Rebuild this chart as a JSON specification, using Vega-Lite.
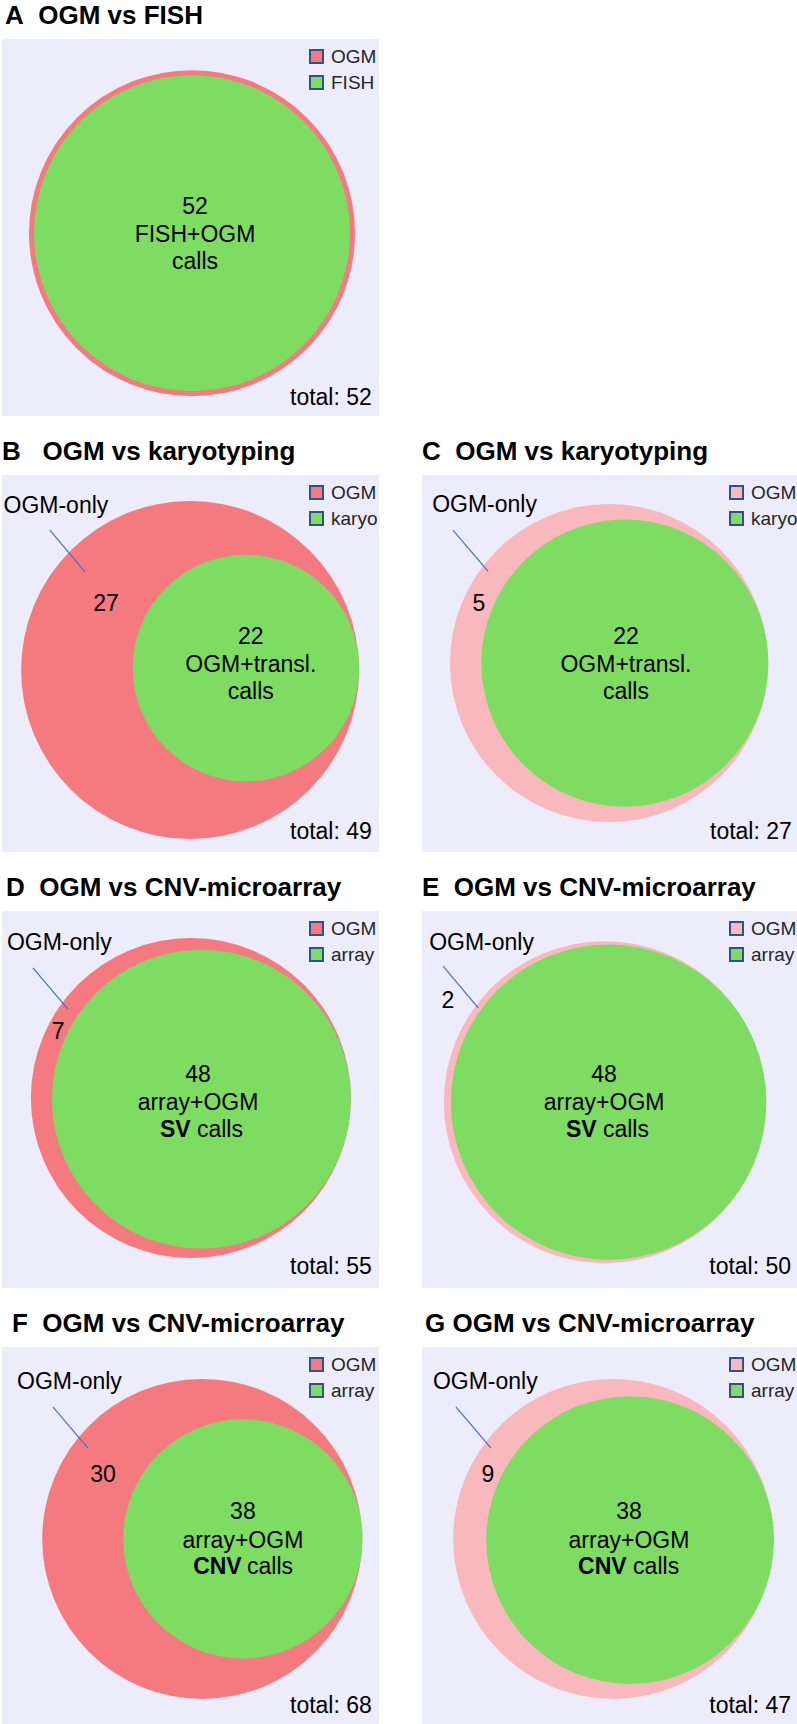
{
  "$schema": "https://vega.github.io/schema/vega-lite/v6.json",
  "padding": {"left": 2, "top": 3, "right": 0, "bottom": 0},
  "background": "white",
  "spacing": 23,
  "resolve": {"scale": {"color": "independent", "size": "independent"}, "legend": {"color": "independent", "size": "independent"}},
  "config": {
    "font": "Liberation Sans",
    "view": {"stroke": null, "fill": "#ECECFB"},
    "title": {"font": "Liberation Sans", "fontSize": 26, "fontWeight": "bold", "anchor": "start", "color": "#000", "offset": 10, "baseline": "alphabetic"},
    "text": {"font": "Liberation Sans", "fontSize": 23, "color": "#000", "baseline": "alphabetic"},
    "legend": {"title": null, "orient": "none", "legendX": 305, "legendY": 8, "symbolType": "square", "symbolSize": 169, "symbolStrokeColor": "#2F528F", "symbolStrokeWidth": 2, "symbolOpacity": 1, "labelFontSize": 19, "labelColor": "#262626", "labelFont": "Liberation Sans", "labelOffset": 5, "rowPadding": 5, "padding": 0}
  },
  "datasets": {
    "circles": [
      {"panel": "A", "set": "OGM", "count": 52, "x": 50.4, "y": 51.5},
      {"panel": "A", "set": "FISH", "count": 52, "x": 50.4, "y": 51.5},
      {"panel": "B", "set": "OGM", "count": 49, "x": 49.9, "y": 51.7},
      {"panel": "B", "set": "karyo", "count": 22, "x": 64.7, "y": 51.2},
      {"panel": "C", "set": "OGM", "count": 27, "x": 49.6, "y": 49.9},
      {"panel": "C", "set": "karyo", "count": 22, "x": 53.8, "y": 49.9},
      {"panel": "D", "set": "OGM", "count": 55, "x": 50.1, "y": 49.6},
      {"panel": "D", "set": "array", "count": 48, "x": 52.9, "y": 49.9},
      {"panel": "E", "set": "OGM", "count": 50, "x": 48.5, "y": 50.7},
      {"panel": "E", "set": "array", "count": 48, "x": 49.5, "y": 50.7},
      {"panel": "F", "set": "OGM", "count": 68, "x": 53.1, "y": 50.9},
      {"panel": "F", "set": "array", "count": 38, "x": 63.9, "y": 50.9},
      {"panel": "G", "set": "OGM", "count": 47, "x": 50.7, "y": 50.9},
      {"panel": "G", "set": "array", "count": 38, "x": 55.2, "y": 51.2}
    ],
    "labels": [
      {"panel": "A", "role": "count", "text": "52", "x": 51.2, "y": 46.4},
      {"panel": "A", "role": "desc", "text": "FISH+OGM", "x": 51.2, "y": 53.8},
      {"panel": "A", "role": "desc", "text": "calls", "x": 51.2, "y": 61.0},
      {"panel": "A", "role": "total", "text": "total: 52", "x": 98.1, "y": 97.1},
      {"panel": "B", "role": "callout", "text": "OGM-only", "x": 0.4, "y": 10.1},
      {"panel": "B", "role": "count", "text": "27", "x": 27.6, "y": 36.1},
      {"panel": "B", "role": "count", "text": "22", "x": 66.0, "y": 44.8},
      {"panel": "B", "role": "desc", "text": "OGM+transl.", "x": 66.0, "y": 52.3},
      {"panel": "B", "role": "desc", "text": "calls", "x": 66.0, "y": 59.4},
      {"panel": "B", "role": "total", "text": "total: 49", "x": 98.1, "y": 96.6},
      {"panel": "C", "role": "callout", "text": "OGM-only", "x": 2.7, "y": 9.8},
      {"panel": "C", "role": "count", "text": "5", "x": 15.1, "y": 36.1},
      {"panel": "C", "role": "count", "text": "22", "x": 54.1, "y": 44.8},
      {"panel": "C", "role": "desc", "text": "OGM+transl.", "x": 54.1, "y": 52.3},
      {"panel": "C", "role": "desc", "text": "calls", "x": 54.1, "y": 59.4},
      {"panel": "C", "role": "total", "text": "total: 27", "x": 98.1, "y": 96.6},
      {"panel": "D", "role": "callout", "text": "OGM-only", "x": 1.3, "y": 10.3},
      {"panel": "D", "role": "count", "text": "7", "x": 14.9, "y": 34.0},
      {"panel": "D", "role": "count", "text": "48", "x": 52.0, "y": 45.4},
      {"panel": "D", "role": "desc", "text": "array+OGM", "x": 52.0, "y": 52.8},
      {"panel": "D", "role": "type", "text": "SV", "x": 41.9, "y": 59.9},
      {"panel": "D", "role": "suffix", "text": "calls", "x": 51.7, "y": 59.9},
      {"panel": "D", "role": "total", "text": "total: 55", "x": 98.1, "y": 96.3},
      {"panel": "E", "role": "callout", "text": "OGM-only", "x": 1.9, "y": 10.3},
      {"panel": "E", "role": "count", "text": "2", "x": 6.9, "y": 25.7},
      {"panel": "E", "role": "count", "text": "48", "x": 48.3, "y": 45.4},
      {"panel": "E", "role": "desc", "text": "array+OGM", "x": 48.3, "y": 52.8},
      {"panel": "E", "role": "type", "text": "SV", "x": 38.2, "y": 59.9},
      {"panel": "E", "role": "suffix", "text": "calls", "x": 48.0, "y": 59.9},
      {"panel": "E", "role": "total", "text": "total: 50", "x": 97.9, "y": 96.3},
      {"panel": "F", "role": "callout", "text": "OGM-only", "x": 4.0, "y": 11.1},
      {"panel": "F", "role": "count", "text": "30", "x": 26.8, "y": 35.8},
      {"panel": "F", "role": "count", "text": "38", "x": 63.9, "y": 45.6},
      {"panel": "F", "role": "desc", "text": "array+OGM", "x": 63.9, "y": 53.3},
      {"panel": "F", "role": "type", "text": "CNV", "x": 50.7, "y": 60.2},
      {"panel": "F", "role": "suffix", "text": "calls", "x": 65.0, "y": 60.2},
      {"panel": "F", "role": "total", "text": "total: 68", "x": 98.1, "y": 97.1},
      {"panel": "G", "role": "callout", "text": "OGM-only", "x": 2.9, "y": 11.1},
      {"panel": "G", "role": "count", "text": "9", "x": 17.5, "y": 35.8},
      {"panel": "G", "role": "count", "text": "38", "x": 54.9, "y": 45.6},
      {"panel": "G", "role": "desc", "text": "array+OGM", "x": 54.9, "y": 53.3},
      {"panel": "G", "role": "type", "text": "CNV", "x": 41.4, "y": 60.2},
      {"panel": "G", "role": "suffix", "text": "calls", "x": 56.0, "y": 60.2},
      {"panel": "G", "role": "total", "text": "total: 47", "x": 97.9, "y": 97.1}
    ],
    "leaders": [
      {"panel": "B", "x": 12.7, "y": 14.6, "x2": 22.0, "y2": 25.7},
      {"panel": "C", "x": 8.2, "y": 14.6, "x2": 17.5, "y2": 25.5},
      {"panel": "D", "x": 8.2, "y": 15.1, "x2": 17.5, "y2": 26.0},
      {"panel": "E", "x": 5.6, "y": 14.6, "x2": 14.9, "y2": 25.7},
      {"panel": "F", "x": 13.5, "y": 15.9, "x2": 22.8, "y2": 26.8},
      {"panel": "G", "x": 9.0, "y": 15.9, "x2": 18.3, "y2": 26.8}
    ]
  },
  "vconcat": [
    {
      "width": 377, "height": 377,
      "title": {"text": "A\u00a0 OGM vs FISH", "dx": 3},
      "encoding": {
        "x": {"field": "x", "type": "quantitative", "scale": {"domain": [0, 100]}, "axis": null},
        "y": {"field": "y", "type": "quantitative", "scale": {"domain": [0, 100], "reverse": true}, "axis": null},
        "size": {"field": "count", "type": "quantitative", "scale": {"domain": [0, 52], "range": [0, 99856]}, "legend": null}
      },
      "layer": [
        {"data": {"name": "circles"}, "transform": [{"filter": {"field": "panel", "equal": "A"}}, {"filter": {"field": "set", "equal": "OGM"}}],
         "mark": {"type": "point", "shape": "circle", "filled": false, "opacity": 1, "stroke": "#F47A80", "strokeWidth": 10}},
        {"data": {"name": "circles"}, "transform": [{"filter": {"field": "panel", "equal": "A"}}],
         "mark": {"type": "point", "shape": "circle", "filled": true, "opacity": 1},
         "encoding": {"color": {"field": "set", "type": "nominal", "sort": null, "scale": {"domain": ["OGM", "FISH"], "range": ["#F47A80", "#7FDC62"]},
           "legend": {"encode": {"symbols": {"update": {"stroke": {"value": "#2F528F"}, "strokeWidth": {"value": 2}, "opacity": {"value": 1}}}}}}}},
        {"data": {"name": "labels"}, "transform": [{"filter": {"field": "panel", "equal": "A"}}, {"filter": {"field": "role", "oneOf": ["count", "desc"]}}],
         "mark": {"type": "text", "align": "center"}, "encoding": {"text": {"field": "text"}, "size": {"value": 23}}},
        {"data": {"name": "labels"}, "transform": [{"filter": {"field": "panel", "equal": "A"}}, {"filter": {"field": "role", "equal": "total"}}],
         "mark": {"type": "text", "align": "right"}, "encoding": {"text": {"field": "text"}, "size": {"value": 23}}}
      ]
    },
    {
      "spacing": 43,
      "resolve": {"scale": {"color": "independent", "size": "independent"}, "legend": {"color": "independent", "size": "independent"}},
      "hconcat": [
        {
          "width": 377, "height": 377,
          "title": {"text": "B\u00a0\u00a0 OGM vs karyotyping", "dx": 0},
          "encoding": {
            "x": {"field": "x", "type": "quantitative", "scale": {"domain": [0, 100]}, "axis": null},
            "y": {"field": "y", "type": "quantitative", "scale": {"domain": [0, 100], "reverse": true}, "axis": null}
          },
          "layer": [
            {"data": {"name": "circles"}, "transform": [{"filter": {"field": "panel", "equal": "B"}}],
             "mark": {"type": "point", "shape": "circle", "filled": true, "opacity": 1},
             "encoding": {
               "size": {"field": "count", "type": "quantitative", "scale": {"domain": [0, 49], "range": [0, 114244]}, "legend": null},
               "color": {"field": "set", "type": "nominal", "sort": null, "scale": {"domain": ["OGM", "karyo"], "range": ["#F47A80", "#7FDC62"]},
               "legend": {"encode": {"symbols": {"update": {"stroke": {"value": "#2F528F"}, "strokeWidth": {"value": 2}, "opacity": {"value": 1}}}}}}}},
            {"data": {"name": "leaders"}, "transform": [{"filter": {"field": "panel", "equal": "B"}}],
             "mark": {"type": "rule", "color": "#4472C4", "strokeWidth": 1.2}, "encoding": {"x2": {"field": "x2"}, "y2": {"field": "y2"}}},
            {"data": {"name": "labels"}, "transform": [{"filter": {"field": "panel", "equal": "B"}}, {"filter": {"field": "role", "oneOf": ["count", "desc"]}}],
             "mark": {"type": "text", "align": "center"}, "encoding": {"text": {"field": "text"}, "size": {"value": 23}}},
            {"data": {"name": "labels"}, "transform": [{"filter": {"field": "panel", "equal": "B"}}, {"filter": {"field": "role", "oneOf": ["callout", "suffix"]}}],
             "mark": {"type": "text", "align": "left"}, "encoding": {"text": {"field": "text"}, "size": {"value": 23}}},
            {"data": {"name": "labels"}, "transform": [{"filter": {"field": "panel", "equal": "B"}}, {"filter": {"field": "role", "equal": "total"}}],
             "mark": {"type": "text", "align": "right"}, "encoding": {"text": {"field": "text"}, "size": {"value": 23}}}
          ]
        },
        {
          "width": 377, "height": 377,
          "title": {"text": "C\u00a0 OGM vs karyotyping", "dx": 0},
          "encoding": {
            "x": {"field": "x", "type": "quantitative", "scale": {"domain": [0, 100]}, "axis": null},
            "y": {"field": "y", "type": "quantitative", "scale": {"domain": [0, 100], "reverse": true}, "axis": null}
          },
          "layer": [
            {"data": {"name": "circles"}, "transform": [{"filter": {"field": "panel", "equal": "C"}}],
             "mark": {"type": "point", "shape": "circle", "filled": true, "opacity": 1},
             "encoding": {
               "size": {"field": "count", "type": "quantitative", "scale": {"domain": [0, 27], "range": [0, 101124]}, "legend": null},
               "color": {"field": "set", "type": "nominal", "sort": null, "scale": {"domain": ["OGM", "karyo"], "range": ["#F9B8BD", "#7FDC62"]},
               "legend": {"encode": {"symbols": {"update": {"stroke": {"value": "#2F528F"}, "strokeWidth": {"value": 2}, "opacity": {"value": 1}}}}}}}},
            {"data": {"name": "leaders"}, "transform": [{"filter": {"field": "panel", "equal": "C"}}],
             "mark": {"type": "rule", "color": "#4472C4", "strokeWidth": 1.2}, "encoding": {"x2": {"field": "x2"}, "y2": {"field": "y2"}}},
            {"data": {"name": "labels"}, "transform": [{"filter": {"field": "panel", "equal": "C"}}, {"filter": {"field": "role", "oneOf": ["count", "desc"]}}],
             "mark": {"type": "text", "align": "center"}, "encoding": {"text": {"field": "text"}, "size": {"value": 23}}},
            {"data": {"name": "labels"}, "transform": [{"filter": {"field": "panel", "equal": "C"}}, {"filter": {"field": "role", "oneOf": ["callout", "suffix"]}}],
             "mark": {"type": "text", "align": "left"}, "encoding": {"text": {"field": "text"}, "size": {"value": 23}}},
            {"data": {"name": "labels"}, "transform": [{"filter": {"field": "panel", "equal": "C"}}, {"filter": {"field": "role", "equal": "total"}}],
             "mark": {"type": "text", "align": "right"}, "encoding": {"text": {"field": "text"}, "size": {"value": 23}}}
          ]
        }
      ]
    },
    {
      "spacing": 43,
      "resolve": {"scale": {"color": "independent", "size": "independent"}, "legend": {"color": "independent", "size": "independent"}},
      "hconcat": [
        {
          "width": 377, "height": 377,
          "title": {"text": "D\u00a0 OGM vs CNV-microarray", "dx": 4},
          "encoding": {
            "x": {"field": "x", "type": "quantitative", "scale": {"domain": [0, 100]}, "axis": null},
            "y": {"field": "y", "type": "quantitative", "scale": {"domain": [0, 100], "reverse": true}, "axis": null}
          },
          "layer": [
            {"data": {"name": "circles"}, "transform": [{"filter": {"field": "panel", "equal": "D"}}],
             "mark": {"type": "point", "shape": "circle", "filled": true, "opacity": 1},
             "encoding": {
               "size": {"field": "count", "type": "quantitative", "scale": {"domain": [0, 55], "range": [0, 102400]}, "legend": null},
               "color": {"field": "set", "type": "nominal", "sort": null, "scale": {"domain": ["OGM", "array"], "range": ["#F47A80", "#7FDC62"]},
               "legend": {"encode": {"symbols": {"update": {"stroke": {"value": "#2F528F"}, "strokeWidth": {"value": 2}, "opacity": {"value": 1}}}}}}}},
            {"data": {"name": "leaders"}, "transform": [{"filter": {"field": "panel", "equal": "D"}}],
             "mark": {"type": "rule", "color": "#4472C4", "strokeWidth": 1.2}, "encoding": {"x2": {"field": "x2"}, "y2": {"field": "y2"}}},
            {"data": {"name": "labels"}, "transform": [{"filter": {"field": "panel", "equal": "D"}}, {"filter": {"field": "role", "oneOf": ["count", "desc"]}}],
             "mark": {"type": "text", "align": "center"}, "encoding": {"text": {"field": "text"}, "size": {"value": 23}}},
            {"data": {"name": "labels"}, "transform": [{"filter": {"field": "panel", "equal": "D"}}, {"filter": {"field": "role", "oneOf": ["callout", "suffix"]}}],
             "mark": {"type": "text", "align": "left"}, "encoding": {"text": {"field": "text"}, "size": {"value": 23}}},
            {"data": {"name": "labels"}, "transform": [{"filter": {"field": "panel", "equal": "D"}}, {"filter": {"field": "role", "equal": "type"}}],
             "mark": {"type": "text", "align": "left", "fontWeight": "bold"}, "encoding": {"text": {"field": "text"}, "size": {"value": 23}}},
            {"data": {"name": "labels"}, "transform": [{"filter": {"field": "panel", "equal": "D"}}, {"filter": {"field": "role", "equal": "total"}}],
             "mark": {"type": "text", "align": "right"}, "encoding": {"text": {"field": "text"}, "size": {"value": 23}}}
          ]
        },
        {
          "width": 377, "height": 377,
          "title": {"text": "E\u00a0 OGM vs CNV-microarray", "dx": 0},
          "encoding": {
            "x": {"field": "x", "type": "quantitative", "scale": {"domain": [0, 100]}, "axis": null},
            "y": {"field": "y", "type": "quantitative", "scale": {"domain": [0, 100], "reverse": true}, "axis": null}
          },
          "layer": [
            {"data": {"name": "circles"}, "transform": [{"filter": {"field": "panel", "equal": "E"}}],
             "mark": {"type": "point", "shape": "circle", "filled": true, "opacity": 1},
             "encoding": {
               "size": {"field": "count", "type": "quantitative", "scale": {"domain": [0, 50], "range": [0, 103684]}, "legend": null},
               "color": {"field": "set", "type": "nominal", "sort": null, "scale": {"domain": ["OGM", "array"], "range": ["#F9B8BD", "#7FDC62"]},
               "legend": {"encode": {"symbols": {"update": {"stroke": {"value": "#2F528F"}, "strokeWidth": {"value": 2}, "opacity": {"value": 1}}}}}}}},
            {"data": {"name": "leaders"}, "transform": [{"filter": {"field": "panel", "equal": "E"}}],
             "mark": {"type": "rule", "color": "#4472C4", "strokeWidth": 1.2}, "encoding": {"x2": {"field": "x2"}, "y2": {"field": "y2"}}},
            {"data": {"name": "labels"}, "transform": [{"filter": {"field": "panel", "equal": "E"}}, {"filter": {"field": "role", "oneOf": ["count", "desc"]}}],
             "mark": {"type": "text", "align": "center"}, "encoding": {"text": {"field": "text"}, "size": {"value": 23}}},
            {"data": {"name": "labels"}, "transform": [{"filter": {"field": "panel", "equal": "E"}}, {"filter": {"field": "role", "oneOf": ["callout", "suffix"]}}],
             "mark": {"type": "text", "align": "left"}, "encoding": {"text": {"field": "text"}, "size": {"value": 23}}},
            {"data": {"name": "labels"}, "transform": [{"filter": {"field": "panel", "equal": "E"}}, {"filter": {"field": "role", "equal": "type"}}],
             "mark": {"type": "text", "align": "left", "fontWeight": "bold"}, "encoding": {"text": {"field": "text"}, "size": {"value": 23}}},
            {"data": {"name": "labels"}, "transform": [{"filter": {"field": "panel", "equal": "E"}}, {"filter": {"field": "role", "equal": "total"}}],
             "mark": {"type": "text", "align": "right"}, "encoding": {"text": {"field": "text"}, "size": {"value": 23}}}
          ]
        }
      ]
    },
    {
      "spacing": 43,
      "resolve": {"scale": {"color": "independent", "size": "independent"}, "legend": {"color": "independent", "size": "independent"}},
      "hconcat": [
        {
          "width": 377, "height": 377,
          "title": {"text": "F\u00a0 OGM vs CNV-microarray", "dx": 10},
          "encoding": {
            "x": {"field": "x", "type": "quantitative", "scale": {"domain": [0, 100]}, "axis": null},
            "y": {"field": "y", "type": "quantitative", "scale": {"domain": [0, 100], "reverse": true}, "axis": null}
          },
          "layer": [
            {"data": {"name": "circles"}, "transform": [{"filter": {"field": "panel", "equal": "F"}}],
             "mark": {"type": "point", "shape": "circle", "filled": true, "opacity": 1},
             "encoding": {
               "size": {"field": "count", "type": "quantitative", "scale": {"domain": [0, 68], "range": [0, 102400]}, "legend": null},
               "color": {"field": "set", "type": "nominal", "sort": null, "scale": {"domain": ["OGM", "array"], "range": ["#F47A80", "#7FDC62"]},
               "legend": {"encode": {"symbols": {"update": {"stroke": {"value": "#2F528F"}, "strokeWidth": {"value": 2}, "opacity": {"value": 1}}}}}}}},
            {"data": {"name": "leaders"}, "transform": [{"filter": {"field": "panel", "equal": "F"}}],
             "mark": {"type": "rule", "color": "#4472C4", "strokeWidth": 1.2}, "encoding": {"x2": {"field": "x2"}, "y2": {"field": "y2"}}},
            {"data": {"name": "labels"}, "transform": [{"filter": {"field": "panel", "equal": "F"}}, {"filter": {"field": "role", "oneOf": ["count", "desc"]}}],
             "mark": {"type": "text", "align": "center"}, "encoding": {"text": {"field": "text"}, "size": {"value": 23}}},
            {"data": {"name": "labels"}, "transform": [{"filter": {"field": "panel", "equal": "F"}}, {"filter": {"field": "role", "oneOf": ["callout", "suffix"]}}],
             "mark": {"type": "text", "align": "left"}, "encoding": {"text": {"field": "text"}, "size": {"value": 23}}},
            {"data": {"name": "labels"}, "transform": [{"filter": {"field": "panel", "equal": "F"}}, {"filter": {"field": "role", "equal": "type"}}],
             "mark": {"type": "text", "align": "left", "fontWeight": "bold"}, "encoding": {"text": {"field": "text"}, "size": {"value": 23}}},
            {"data": {"name": "labels"}, "transform": [{"filter": {"field": "panel", "equal": "F"}}, {"filter": {"field": "role", "equal": "total"}}],
             "mark": {"type": "text", "align": "right"}, "encoding": {"text": {"field": "text"}, "size": {"value": 23}}}
          ]
        },
        {
          "width": 377, "height": 377,
          "title": {"text": "G OGM vs CNV-microarray", "dx": 3},
          "encoding": {
            "x": {"field": "x", "type": "quantitative", "scale": {"domain": [0, 100]}, "axis": null},
            "y": {"field": "y", "type": "quantitative", "scale": {"domain": [0, 100], "reverse": true}, "axis": null}
          },
          "layer": [
            {"data": {"name": "circles"}, "transform": [{"filter": {"field": "panel", "equal": "G"}}],
             "mark": {"type": "point", "shape": "circle", "filled": true, "opacity": 1},
             "encoding": {
               "size": {"field": "count", "type": "quantitative", "scale": {"domain": [0, 47], "range": [0, 102400]}, "legend": null},
               "color": {"field": "set", "type": "nominal", "sort": null, "scale": {"domain": ["OGM", "array"], "range": ["#F9B8BD", "#7FDC62"]},
               "legend": {"encode": {"symbols": {"update": {"stroke": {"value": "#2F528F"}, "strokeWidth": {"value": 2}, "opacity": {"value": 1}}}}}}}},
            {"data": {"name": "leaders"}, "transform": [{"filter": {"field": "panel", "equal": "G"}}],
             "mark": {"type": "rule", "color": "#4472C4", "strokeWidth": 1.2}, "encoding": {"x2": {"field": "x2"}, "y2": {"field": "y2"}}},
            {"data": {"name": "labels"}, "transform": [{"filter": {"field": "panel", "equal": "G"}}, {"filter": {"field": "role", "oneOf": ["count", "desc"]}}],
             "mark": {"type": "text", "align": "center"}, "encoding": {"text": {"field": "text"}, "size": {"value": 23}}},
            {"data": {"name": "labels"}, "transform": [{"filter": {"field": "panel", "equal": "G"}}, {"filter": {"field": "role", "oneOf": ["callout", "suffix"]}}],
             "mark": {"type": "text", "align": "left"}, "encoding": {"text": {"field": "text"}, "size": {"value": 23}}},
            {"data": {"name": "labels"}, "transform": [{"filter": {"field": "panel", "equal": "G"}}, {"filter": {"field": "role", "equal": "type"}}],
             "mark": {"type": "text", "align": "left", "fontWeight": "bold"}, "encoding": {"text": {"field": "text"}, "size": {"value": 23}}},
            {"data": {"name": "labels"}, "transform": [{"filter": {"field": "panel", "equal": "G"}}, {"filter": {"field": "role", "equal": "total"}}],
             "mark": {"type": "text", "align": "right"}, "encoding": {"text": {"field": "text"}, "size": {"value": 23}}}
          ]
        }
      ]
    }
  ]
}
